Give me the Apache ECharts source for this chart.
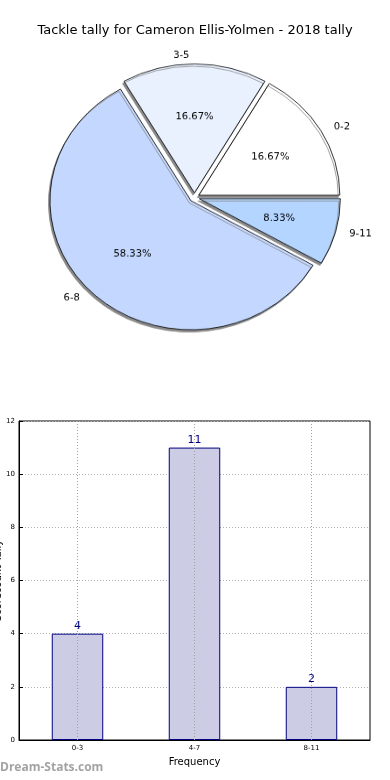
<!DOCTYPE html>
<html><head><meta charset="utf-8">
<script src="https://cdn.jsdelivr.net/npm/echarts@6/dist/echarts.min.js"></script>
<style>
html,body{margin:0;padding:0;background:#fff;}
#wrap{position:relative;width:390px;height:780px;}
#c{position:absolute;left:0;top:0;width:390px;height:780px;}
#p{position:absolute;left:0;top:0;width:390px;height:400px;transform:scaleY(0.915);transform-origin:50% 197.5px;}
</style>
</head><body><div id="wrap"><div id="c"></div><div id="p"></div></div>
<script>
const titleText = 'Tackle tally for Cameron Ellis-Yolmen - 2018 tally';
const pieNames = ['0-2', '3-5', '6-8', '9-11'];
const pieValues = [2, 2, 7, 1];
const pieColors = ['#ffffff', '#e9f1ff', '#c4d8ff', '#b3d5ff'];
const barCategories = ['0-3', '4-7', '8-11'];
const barValues = [4, 11, 2];
const yTicks = [0, 2, 4, 6, 8, 10, 12];

const font = 'DejaVu Sans';
const C = [194.5, 197.5];
const R = 141;
const OFF = 5;
const START = 0.01;

function pieData(colorFn) {
  return pieNames.map((n, i) => ({ name: n, value: pieValues[i], selected: true, itemStyle: colorFn(i) }));
}

const chart = echarts.init(document.getElementById('c'));
chart.setOption({
  animation: false,
  title: { text: titleText, left: 'center', top: 19,
    textStyle: { fontFamily: font, fontSize: 13, fontWeight: 'normal', color: '#000' } },
  graphic: [{ type: 'text', left: 0, top: 762,
    style: { text: 'Dream-Stats.com', fontFamily: 'Open Sans', fontSize: 12, fontWeight: 'bold', fill: '#a3a3a3' } }],
  grid: { left: 19, right: 20, top: 421, bottom: 40, containLabel: false, outerBoundsMode: 'none',
    show: true, borderColor: '#000', borderWidth: 1, backgroundColor: 'transparent' },
  xAxis: { type: 'category', data: barCategories, name: 'Frequency', nameLocation: 'middle', nameGap: 17,
    nameMoveOverlap: false,
    nameTextStyle: { fontFamily: font, fontSize: 10, color: '#000' },
    axisLine: { show: true, lineStyle: { color: '#000' } },
    axisTick: { show: false },
    axisLabel: { fontFamily: font, fontSize: 7, color: '#000', margin: 5 },
    splitLine: { show: false } },
  yAxis: { type: 'value', min: 0, max: 12, interval: 2, name: 'Scorecount Tally', nameLocation: 'middle', nameGap: 16,
    nameMoveOverlap: false,
    nameTextStyle: { fontFamily: font, fontSize: 10, color: '#000' },
    axisLine: { show: true, lineStyle: { color: '#000' } },
    axisTick: { show: true, inside: true, length: 4, lineStyle: { color: '#000' } },
    axisLabel: { fontFamily: font, fontSize: 7, color: '#000', margin: 4,
      formatter: v => yTicks.includes(v) ? String(v) : '' },
    splitLine: { show: true, lineStyle: { color: '#b0b0b0', type: [1, 2], width: 1 } } },
  series: [
    { type: 'bar', data: barValues, barWidth: '44%',
      itemStyle: { color: '#ccccE5', borderColor: '#000080', borderWidth: 1 },
      label: { show: true, position: 'top', distance: 2, fontFamily: font, fontSize: 11, color: '#000080' },
      markLine: { silent: true, symbol: 'none', label: { show: false },
        lineStyle: { color: '#a0a0a0', type: [1, 2], width: 1 },
        data: barCategories.map(c => ({ xAxis: c })) } }
  ]
});

const pie = echarts.init(document.getElementById('p'));
pie.setOption({
  animation: false,
  series: [
    { type: 'pie', center: C, radius: [0, R], startAngle: START, clockwise: false,
      selectedMode: 'multiple', selectedOffset: OFF, silent: true, avoidLabelOverlap: false,
      label: { show: true, position: 'outside', formatter: '{b}', fontFamily: font, fontSize: 10, color: '#000', alignTo: 'none' },
      labelLine: { show: false, length: 9, length2: 0 },
      emphasis: { disabled: true },
      data: pieData(i => ({ color: pieColors[i], borderColor: '#000', borderWidth: 0.8,
        shadowColor: '#8a8a8a', shadowBlur: 0, shadowOffsetX: -1.5, shadowOffsetY: 2.5 })) },
    { type: 'pie', center: C, radius: [0, R * 1.13], startAngle: START, clockwise: false,
      selectedMode: 'multiple', selectedOffset: OFF, silent: true,
      label: { show: true, position: 'inside', formatter: '{d}%', fontFamily: font, fontSize: 10, color: '#000', rotate: 0 },
      labelLine: { show: false }, emphasis: { disabled: true },
      data: pieData(() => ({ color: 'rgba(0,0,0,0)', borderWidth: 0 })) }
  ]
});
</script></body></html>
